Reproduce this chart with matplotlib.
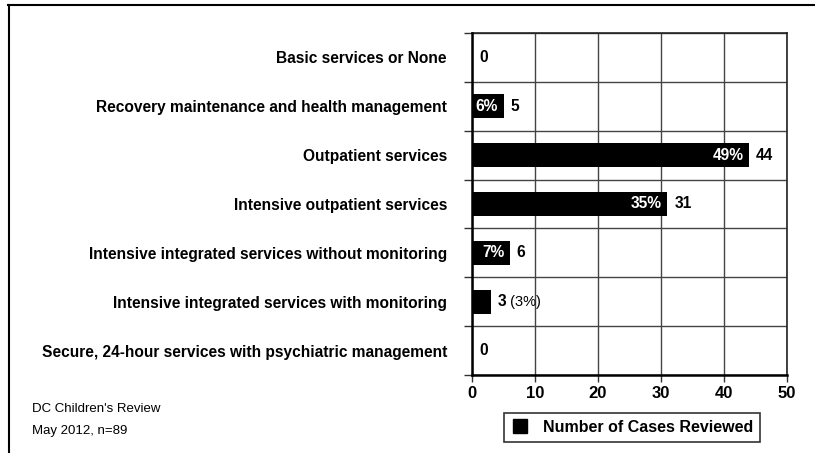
import matplotlib
matplotlib.use("Agg")
import matplotlib.pyplot as plt
from matplotlib.lines import Line2D

# data
categories = [
    "Basic services or None",
    "Recovery maintenance and health management",
    "Outpatient services",
    "Intensive outpatient services",
    "Intensive integrated services without monitoring",
    "Intensive integrated services with monitoring",
    "Secure, 24-hour services with psychiatric management",
]
cases = [0, 5, 44, 31, 6, 3, 0]
pct_inside = ["", "6%", "49%", "35%", "7%", "", ""]
pct_outside = ["", "", "", "", "", "(3%)", ""]
x_ticks = [0, 10, 20, 30, 40, 50]
legend_label = "Number of Cases Reviewed"
footer = ["DC Children's Review", "May 2012, n=89"]

plt.rcParams["font.family"] = ["Liberation Sans", "DejaVu Sans"]

fig = plt.figure(figsize=(8.15, 4.53), dpi=100)
ax = fig.add_axes([472 / 815, 1 - 375 / 453, (787 - 472) / 815, (375 - 33) / 453])

ypos = list(range(len(categories)))
ax.barh(ypos, cases, height=0.5, color="black", zorder=3)

ax.set_xlim(0, 50)
ax.set_ylim(len(categories) - 0.5, -0.5)

# grid lines at category boundaries, labels at centres
ax.set_yticks([i - 0.5 for i in range(len(categories) + 1)])
ax.set_yticklabels([])
ax.set_yticks(ypos, minor=True)
ax.set_yticklabels(categories, minor=True, fontweight="bold", fontsize=11.2)
ax.tick_params(axis="y", which="major", length=6, width=1, color="#333333", direction="out")
ax.tick_params(axis="y", which="minor", length=0, pad=18)

ax.set_xticks(x_ticks)
ax.set_xticklabels([str(t) for t in x_ticks], fontweight="bold", fontsize=12)
ax.tick_params(axis="x", length=5, width=1, color="#333333", direction="out", pad=3)

ax.grid(True, which="major", color="#444444", linewidth=1, zorder=0)
ax.set_axisbelow(True)

for side in ["top", "right"]:
    ax.spines[side].set_color("#222222")
    ax.spines[side].set_linewidth(1.2)
for side in ["left", "bottom"]:
    ax.spines[side].set_color("black")
    ax.spines[side].set_linewidth(1.8)
    ax.spines[side].set_zorder(4)

# value labels
for y, v, pin, pout in zip(ypos, cases, pct_inside, pct_outside):
    t = ax.annotate(str(v), (v, y), xytext=(5, 0), textcoords="offset points",
                    ha="left", va="center", fontweight="bold", fontsize=11.2, zorder=5)
    if pin:
        ax.annotate(pin, (v, y), xytext=(-4, 0), textcoords="offset points",
                    ha="right", va="center", fontweight="bold", fontsize=11.2,
                    color="white", zorder=5)
    if pout:
        ax.annotate(" " + pout, xy=(1, 0.5), xycoords=t, ha="left", va="center",
                    fontsize=10.5, zorder=5)

# legend
handle = Line2D([], [], marker="s", color="black", linestyle="none", markersize=10)
leg = fig.legend([handle], [legend_label], loc="center",
                 bbox_to_anchor=(632 / 815, 1 - 427.5 / 453), frameon=True,
                 fancybox=False, edgecolor="#333333", framealpha=1,
                 prop={"weight": "bold", "size": 11.5}, handlelength=1.2,
                 handletextpad=0.8, borderpad=0.45, borderaxespad=0)
leg.get_frame().set_linewidth(1.2)

# footer notes
fig.text(32 / 815, 1 - 409 / 453, footer[0], fontsize=9.5, va="center")
fig.text(32 / 815, 1 - 431 / 453, footer[1], fontsize=9.5, va="center")

# outer frame (cut off at the image edges)
fig.add_artist(Line2D([8 / 815, 1], [1 - 4.5 / 453, 1 - 4.5 / 453], color="black",
                      linewidth=1.5, transform=fig.transFigure))
fig.add_artist(Line2D([9 / 815, 9 / 815], [0, 1 - 4.5 / 453], color="black",
                      linewidth=1.5, transform=fig.transFigure))

fig.savefig("out.png", dpi=100)
